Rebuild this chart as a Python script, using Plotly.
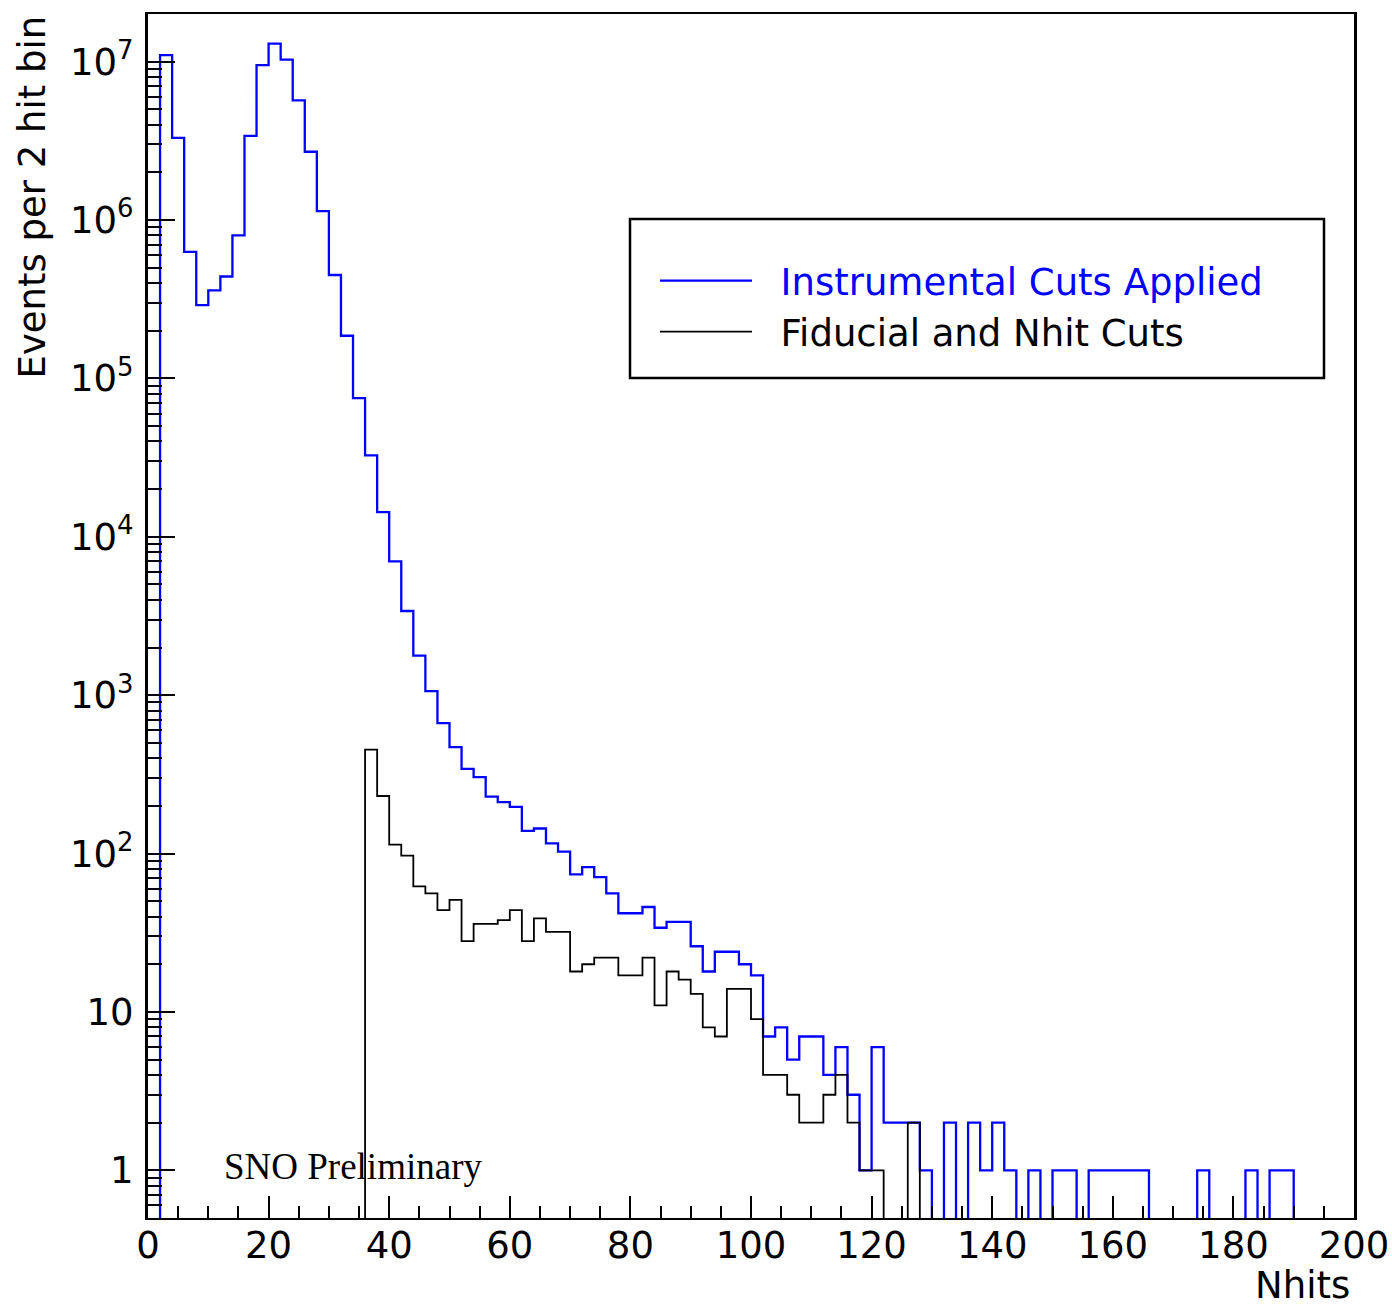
import plotly.graph_objects as go

# ---------------- data ----------------
bin_edges = list(range(0, 202, 2))          # 2-hit bins, Nhits 0..200

instrumental_cuts = [
    0, 1.1e7, 3.3e6, 6.3e5, 2.9e5, 3.6e5, 4.4e5, 8.0e5, 3.4e6, 9.5e6,
    1.3e7, 1.03e7, 5.7e6, 2.7e6, 1.14e6, 4.5e5, 1.86e5, 7.5e4, 3.27e4, 1.43e4,
    7.0e3, 3.4e3, 1.78e3, 1.06e3, 667, 470, 343, 304, 229, 211,
    197, 139, 144, 116, 103, 74, 82, 71, 56, 42,
    42, 46, 34, 37, 37, 26, 18, 24, 24, 20,
    17, 7, 8, 5, 7, 7, 4, 6, 3, 1,
    6, 2, 2, 2, 1, 0, 2, 0, 2, 1,
    2, 1, 0, 1, 0, 1, 1, 0, 1, 1,
    1, 1, 1, 0, 0, 0, 0, 1, 0, 0,
    0, 1, 0, 1, 1, 0, 0, 0, 0, 0,
]

fiducial_nhit_cuts = [
    0, 0, 0, 0, 0, 0, 0, 0, 0, 0,
    0, 0, 0, 0, 0, 0, 0, 0, 453, 231,
    114, 97, 62, 56, 44, 51, 28, 36, 36, 38,
    44, 28, 39, 32, 32, 18, 20, 22, 22, 17,
    17, 22, 11, 18, 16, 13, 8, 7, 14, 14,
    9, 4, 4, 3, 2, 2, 3, 4, 2, 1,
    1, 0, 0, 2, 0, 0, 0, 0, 0, 0,
    0, 0, 0, 0, 0, 0, 0, 0, 0, 0,
    0, 0, 0, 0, 0, 0, 0, 0, 0, 0,
    0, 0, 0, 0, 0, 0, 0, 0, 0, 0,
]

y_tick_values = [1, 10, 1e2, 1e3, 1e4, 1e5, 1e6, 1e7]
y_tick_labels = ["1", "10", "10<sup>2</sup>", "10<sup>3</sup>", "10<sup>4</sup>",
                 "10<sup>5</sup>", "10<sup>6</sup>", "10<sup>7</sup>"]

# ---------------- helpers ----------------
FLOOR = 1e-2  # empty bins drawn below the visible log range (like ROOT)


def step_values(vals):
    y = [v if v > 0 else FLOOR for v in vals]
    return y + [y[-1]]


minor_y = [k * 10 ** d for d in range(-1, 8) for k in range(2, 10)
           if 0.5 <= k * 10 ** d <= 2e7]

FONT = "DejaVu Sans"
FS = 37
NB = "\u00a0\u00a0"

fig = go.Figure()
fig.add_trace(go.Scatter(
    x=bin_edges, y=step_values(instrumental_cuts), mode="lines",
    line=dict(shape="hv", color="#0000ff", width=2.3),
    name=NB + '<span style="color:#0000ff">Instrumental Cuts Applied</span>',
    legendgroup="a",
))
fig.add_trace(go.Scatter(
    x=bin_edges, y=step_values(fiducial_nhit_cuts), mode="lines",
    line=dict(shape="hv", color="#000000", width=1.8),
    name=NB + "Fiducial and Nhit Cuts",
    legendgroup="b",
))

W, H = 1392, 1309
L, R, T, B = 148, 38, 14, 91
pw, ph = W - L - R, H - T - B


def px_x(px):
    return (px - L) / pw


def px_y(py):
    return (H - B - py) / ph


fig.update_layout(
    width=W, height=H,
    margin=dict(l=L, r=R, t=T, b=B, autoexpand=False),
    paper_bgcolor="white", plot_bgcolor="white",
    font=dict(family=FONT, size=FS, color="black"),
    showlegend=True,
    legend=dict(
        x=px_x(655), y=px_y(250), xanchor="left", yanchor="top",
        bgcolor="rgba(0,0,0,0)", borderwidth=0,
        font=dict(family=FONT, size=FS, color="black"),
        itemwidth=92, tracegroupgap=4, traceorder="normal",
    ),
    xaxis=dict(
        range=[0, 200], showgrid=False, zeroline=False, automargin=False,
        showline=True, linecolor="black", linewidth=2, mirror=True,
        ticks="inside", ticklen=22, tickwidth=2, tickcolor="black",
        tickmode="linear", tick0=0, dtick=20,
        tickfont=dict(family=FONT, size=FS, color="black"),
        ticklabelstandoff=-6,
        minor=dict(ticks="inside", ticklen=12, tickwidth=2, tickcolor="black",
                   tickmode="linear", tick0=0, dtick=5),
    ),
    yaxis=dict(
        type="log", range=[-0.301, 7.301], showgrid=False, zeroline=False,
        automargin=False,
        showline=True, linecolor="black", linewidth=3, mirror=True,
        ticks="inside", ticklen=27, tickwidth=2, tickcolor="black",
        tickmode="array", tickvals=y_tick_values, ticktext=y_tick_labels,
        tickfont=dict(family=FONT, size=FS, color="black"),
        ticklabelstandoff=4,
        minor=dict(ticks="inside", ticklen=14, tickwidth=2, tickcolor="black",
                   tickmode="array", tickvals=minor_y),
    ),
    shapes=[dict(type="rect", xref="paper", yref="paper",
                 x0=px_x(630), x1=px_x(1324), y0=px_y(378), y1=px_y(219),
                 line=dict(color="black", width=2.5), fillcolor="rgba(0,0,0,0)",
                 layer="above")],
    annotations=[
        dict(text="Events per 2 hit bin", textangle=-90, xref="paper", yref="paper",
             x=px_x(32), y=1, xanchor="center", yanchor="top", showarrow=False,
             font=dict(family=FONT, size=FS, color="black")),
        dict(text="Nhits", xref="paper", yref="paper",
             x=px_x(1352), y=px_y(1309), xanchor="right", yanchor="bottom",
             showarrow=False, font=dict(family=FONT, size=FS, color="black")),
        dict(text="SNO Preliminary", xref="x", yref="y",
             x=34.0, y=0.025, xanchor="center", yanchor="middle", showarrow=False,
             font=dict(family="Liberation Serif", size=37, color="black")),
    ],
)

fig.write_html("out.html")
